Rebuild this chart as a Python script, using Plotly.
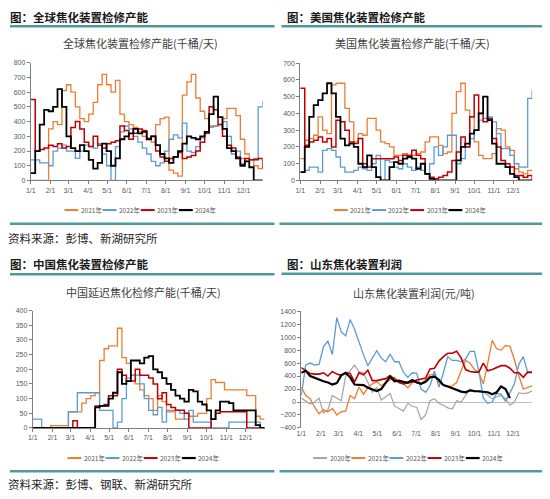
import pandas as pd
import plotly.graph_objects as go

W, H = 550, 499

weeks = pd.date_range("2021-01-01", periods=53, freq="7D")
month_ticks = pd.date_range("2021-01-01", periods=12, freq="MS")
month_labels = [f"{d.month}/1" for d in month_ticks]

# 全球焦化装置检修产能 (千桶/天), weekly readings
glb_2021 = [0, 0, 0, 0, 350, 400, 380, 610, 650, 600, 500, 420, 400, 450, 530, 650, 720, 650,
            600, 680, 450, 400, 380, 360, 330, 300, 290, 260, 380, 420, 430, 70, 50, 30, 580, 670,
            720, 560, 470, 420, 360, 370, 380, 420, 490, 490, 440, 280, 180, 140, 100, 80, 90]
glb_2022 = [140, 140, 120, 120, 100, 200, 220, 240, 200, 200, 150, 200, 240, 230, 220, 250, 180,
            100, 0, 230, 330, 370, 350, 300, 260, 220, 180, 130, 100, 120, 200, 280, 310, 290, 390,
            200, 190, 230, 290, 330, 370, 370, 380, 400, 300, 180, 200, 150, 130, 140, 150, 500, 540]
glb_2023 = [550, 200, 210, 220, 240, 230, 250, 220, 230, 360, 400, 350, 260, 230, 300, 240, 220,
            250, 260, 270, 370, 340, 280, 320, 350, 340, 280, 300, 200, 160, 130, 150, 160, 190, 150,
            160, 170, 200, 260, 320, 500, 480, 380, 300, 240, 220, 160, 110, 150, 140, 140, 150, 80]
glb_2024 = [50, 200, 380, 480, 470, 500, 620, 500, 300, 220, 200, 240, 200, 140, 80, 120, 250, 200,
            100, 150, 280, 300, 320, 350, 320, 330, 280, 300, 240, 180, 150, 120, 160, 200, 250, 300,
            290, 280, 300, 330, 450, 570, 430, 350, 220, 200, 150, 100, 130, 90, 0, 0, 0]

# 美国焦化装置检修产能 (千桶/天)
us_2021 = [130, 240, 250, 270, 380, 300, 280, 570, 580, 580, 430, 350, 230, 280, 270, 370, 370,
           300, 230, 220, 200, 150, 150, 160, 140, 150, 160, 170, 230, 260, 260, 210, 160, 170, 400,
           530, 580, 420, 380, 230, 150, 130, 130, 160, 310, 300, 200, 180, 70, 50, 40, 60, 50]
us_2022 = [50, 60, 80, 80, 50, 180, 190, 180, 140, 80, 50, 50, 60, 80, 70, 60, 100, 150, 0, 120,
           110, 80, 70, 100, 80, 60, 80, 60, 40, 100, 200, 150, 200, 270, 270, 100, 130, 200, 250,
           300, 360, 370, 380, 350, 280, 190, 190, 150, 100, 80, 80, 490, 540]
us_2023 = [550, 210, 230, 240, 260, 230, 250, 200, 360, 350, 300, 230, 220, 250, 100, 80, 130, 130,
           130, 130, 130, 140, 120, 150, 150, 180, 150, 130, 40, 20, 10, 20, 30, 50, 120, 170, 260,
           200, 380, 510, 400, 350, 370, 250, 200, 120, 100, 80, 30, 30, 20, 30, 0]
us_2024 = [50, 200, 380, 450, 480, 520, 580, 520, 380, 250, 210, 220, 200, 100, 80, 150, 80, 20, 0,
           0, 80, 110, 100, 130, 140, 130, 70, 100, 40, 10, 0, 0, 0, 0, 0, 120, 200, 220, 280, 300,
           400, 500, 360, 220, 100, 100, 80, 40, 20, 0, 0, 0, 0]

# 中国延迟焦化检修产能 (千桶/天)
cn_2021 = [0, 0, 0, 0, 8, 8, 8, 8, 55, 55, 55, 85, 100, 110, 120, 230, 270, 280, 280, 340, 240,
           220, 180, 150, 130, 110, 100, 60, 110, 90, 55, 55, 30, 30, 50, 40, 40, 50, 50, 100, 165,
           155, 155, 130, 130, 130, 130, 130, 110, 110, 40, 30, 30]
cn_2022 = [30, 30, 0, 0, 0, 0, 0, 0, 55, 55, 120, 120, 120, 120, 120, 60, 60, 60, 0, 20, 100, 170,
           180, 180, 150, 100, 60, 45, 70, 20, 60, 60, 60, 50, 30, 60, 20, 20, 20, 20, 0, 0, 0, 0,
           20, 20, 20, 20, 20, 20, 20, 0, 0]
cn_2023 = [0, 0, 0, 0, 0, 0, 0, 0, 0, 25, 0, 0, 0, 0, 75, 75, 80, 110, 110, 200, 180, 160, 160,
           200, 180, 180, 170, 150, 100, 120, 80, 70, 60, 60, 50, 0, 0, 0, 0, 0, 30, 50, 55, 55, 55,
           55, 55, 55, 0, 0, 0, 0, 0]
cn_2024 = [0, 0, 0, 0, 0, 0, 0, 0, 0, 0, 0, 0, 0, 0, 70, 75, 75, 100, 120, 190, 150, 160, 230, 230,
           220, 240, 245, 200, 190, 170, 150, 130, 110, 100, 90, 130, 125, 90, 80, 60, 30, 60, 90,
           90, 85, 60, 60, 60, 60, 60, 10, 0, 0]

# 山东焦化装置利润 (元/吨)
sd_2020 = [60, 20, -30, 0, 60, -170, -120, 100, 60, 20, 400, 480, 570, 470, 450, 300, 150, 230, 30,
           80, 130, -60, -100, -140, -20, -70, -80, -270, -200, 20, 50, -20, -50, -90, -110, 20, 0,
           100, 200, 150, 180, 160, 100, 50, 80, 100, 50, -50, 0, 140, 130, 140, 170]
sd_2021 = [230, 100, 50, -80, -180, -120, -150, -100, -200, -150, -140, 100, 50, 230, 120, 220,
           280, 310, 250, 300, 340, 380, 300, 280, 220, 300, 320, 280, 350, 420, 430, 300, 260, 240,
           250, 300, 480, 640, 600, 500, 450, 280, 600, 950, 820, 800, 870, 860, 650, 400, 200, 230,
           250]
sd_2022 = [100, 570, 600, 570, 580, 850, 940, 730, 1300, 1080, 1020, 1270, 1120, 920, 730, 560, 680,
           790, 680, 620, 740, 620, 620, 460, 380, 450, 440, 200, 150, 250, 480, 230, 450, 700, 640,
           640, 620, 660, 780, 780, 470, 60, -20, 0, 130, 120, 10, 150, 280, 580, 700, 450, 450]
sd_2023 = [530, 480, 440, 430, 430, 450, 400, 470, 430, 410, 450, 440, 310, 450, 420, 490, 330, 330,
           340, 360, 410, 350, 300, 280, 290, 310, 340, 360, 370, 510, 520, 630, 700, 750, 750, 780,
           680, 500, 470, 460, 460, 600, 480, 500, 530, 560, 560, 520, 450, 450, 380, 460, 460]
sd_2024 = [450, 480, 400, 370, 350, 320, 300, 270, 290, 410, 450, 380, 270, 270, 260, 220, 200, 170,
           200, 300, 390, 320, 330, 310, 300, 340, 300, 280, 310, 380, 390, 340, 260, 240, 210, 190,
           160, 150, 180, 170, 160, 150, 150, 120, 150, 240, 200, 60]

C_2020, C_2021, C_2022, C_2023, C_2024 = "#A5A5A5", "#ED7D31", "#5B9BD5", "#C00000", "#000000"
TEAL = "#4E9A9A"
CJK = "Noto Sans CJK SC"


def px(x):
    return x / W


def py(y):
    return 1 - y / H


fig = go.Figure()

panels = [
    ("", [(glb_2021, C_2021, 1.3), (glb_2022, C_2022, 1.3), (glb_2023, C_2023, 1.5), (glb_2024, C_2024, 1.8)], "hv"),
    ("2", [(us_2021, C_2021, 1.3), (us_2022, C_2022, 1.3), (us_2023, C_2023, 1.5), (us_2024, C_2024, 1.8)], "hv"),
    ("3", [(cn_2021, C_2021, 1.3), (cn_2022, C_2022, 1.3), (cn_2023, C_2023, 1.5), (cn_2024, C_2024, 1.8)], "hv"),
    ("4", [(sd_2020, C_2020, 1.2), (sd_2021, C_2021, 1.3), (sd_2022, C_2022, 1.3), (sd_2023, C_2023, 1.6), (sd_2024, C_2024, 2.2)], "linear"),
]
for ax, series, shape in panels:
    for vals, col, lw in series:
        fig.add_trace(go.Scatter(
            x=weeks[:len(vals)], y=vals, mode="lines",
            line=dict(color=col, width=lw, shape=shape),
            xaxis="x" + ax, yaxis="y" + ax, showlegend=False, hoverinfo="skip",
        ))

tickfont = dict(family="Liberation Sans", size=7, color="#595959")


def xax(dom, anchor, line=True):
    return dict(domain=dom, anchor=anchor, range=["2021-01-01", "2021-12-31"],
                tickvals=month_ticks, ticktext=month_labels, tickfont=tickfont,
                showgrid=False, showline=line, linecolor="#7f7f7f", linewidth=1,
                ticks="outside" if line else "", ticklen=3, tickcolor="#7f7f7f", zeroline=False)


def yax(dom, anchor, rng, dtick, zero=False):
    return dict(domain=dom, anchor=anchor, range=rng, dtick=dtick, tickfont=tickfont,
                showgrid=False, showline=True, linecolor="#7f7f7f", linewidth=1,
                ticks="outside", ticklen=3, tickcolor="#7f7f7f",
                zeroline=zero, zerolinecolor="#bfbfbf", zerolinewidth=1)


fig.update_layout(
    width=W, height=H, margin=dict(l=0, r=0, t=0, b=0),
    paper_bgcolor="white", plot_bgcolor="white", showlegend=False,
    xaxis=xax([px(26), px(260)], "y"),
    yaxis=yax([py(179), py(59.5)], "x", [0, 800], 100),
    xaxis2=xax([px(298), px(532)], "y2"),
    yaxis2=yax([py(179), py(60)], "x2", [0, 700], 100),
    xaxis3=xax([px(28), px(262)], "y3"),
    yaxis3=yax([py(430), py(311)], "x3", [0, 400], 50),
    xaxis4=xax([px(299), px(532)], "y4", line=False),
    yaxis4=yax([py(430), py(311.5)], "x4", [-400, 1400], 200, zero=True),
)

shapes = []
for x0, x1, y in [(5, 272, 22.5), (279, 542, 22.5), (5, 272, 223), (277, 542, 223),
                  (5, 272, 274), (279, 542, 273.5), (5, 272, 474), (277, 542, 474)]:
    shapes.append(dict(type="line", xref="paper", yref="paper", x0=px(x0), x1=px(x1),
                       y0=py(y), y1=py(y), line=dict(color=TEAL, width=2.5)))

annotations = []


def text(x, y, s, size, color="#262626", anchor="left", bold=False):
    annotations.append(dict(xref="paper", yref="paper", x=px(x), y=py(y), text=f"<b>{s}</b>" if bold else s,
                            showarrow=False, xanchor=anchor, yanchor="middle", borderpad=0,
                            font=dict(family=CJK, size=size, color=color)))


text(4, 13, "图：全球焦化装置检修产能", 11.5, "#1a1a1a", bold=True)
text(284, 13, "图：美国焦化装置检修产能", 11.5, "#1a1a1a", bold=True)
text(4, 264, "图：中国焦化装置检修产能", 11.5, "#1a1a1a", bold=True)
text(284, 264, "图：山东焦化装置利润", 11.5, "#1a1a1a", bold=True)

text(137, 40, "全球焦化装置检修产能(千桶/天)", 11, "#404040", "center")
text(411, 40, "美国焦化装置检修产能(千桶/天)", 11, "#404040", "center")
text(140, 292, "中国延迟焦化检修产能(千桶/天)", 11, "#404040", "center")
text(413, 293, "山东焦化装置利润(元/吨)", 11, "#404040", "center")

text(2, 237, "资料来源：彭博、新湖研究所", 11.5, "#262626")
text(2, 487, "资料来源：彭博、钢联、新湖研究所", 11.5, "#262626")

# legends
four = [("2021年", C_2021), ("2022年", C_2022), ("2023年", C_2023), ("2024年", C_2024)]
five = [("2020年", C_2020)] + four
for x_start, y, items in [(60, 209, four), (332, 209, four), (63, 460.5, four), (311, 460.5, five)]:
    for i, (name, col) in enumerate(items):
        x0 = x_start + i * 38.5
        shapes.append(dict(type="line", xref="paper", yref="paper", x0=px(x0), x1=px(x0 + 14),
                           y0=py(y), y1=py(y), line=dict(color=col, width=2 if col != C_2024 else 2.2)))
        text(x0 + 15.5, y, name, 6.5, "#595959")

fig.update_layout(shapes=shapes, annotations=annotations)
fig.write_html("out.html", config={"displayModeBar": False},
               post_script="document.body.style.margin='0';document.body.style.overflow='hidden';")
